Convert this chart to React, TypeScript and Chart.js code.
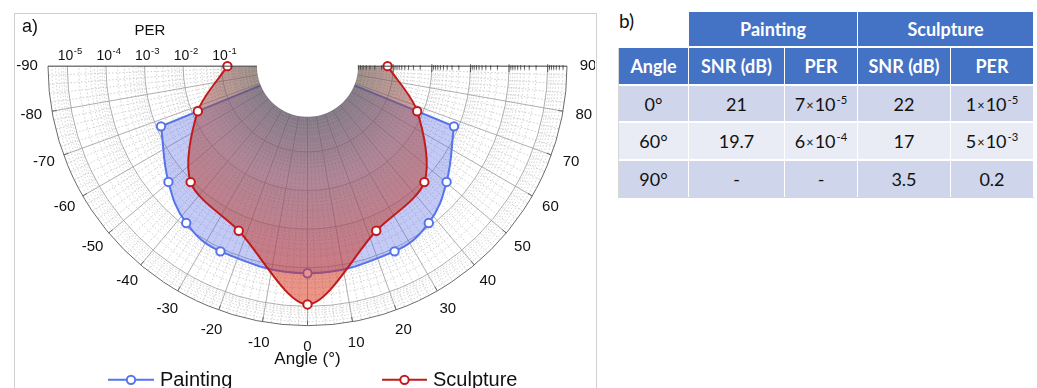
import React, { useEffect, useRef } from "react";
import { Chart, registerables } from "chart.js";

Chart.register(...registerables);

// ---------------- data ----------------
const sculptureAngles = [-90, -67.5, -45, -22.5, 0, 22.5, 45, 67.5, 90];
const sculpturePER = [0.14, 0.014, 8.7e-4, 3.7e-4, 1e-5, 3.7e-4, 8.7e-4, 0.014, 0.14];
const paintingAngles = [-67.5, -50, -37.5, -25, 0, 25, 37.5, 50, 67.5];
const paintingPER = [1.3e-3, 3.3e-4, 1.15e-4, 7.7e-5, 6.5e-5, 7.7e-5, 1.15e-4, 3.3e-4, 1.3e-3];
const angleTicks = [-90, -80, -70, -60, -50, -40, -30, -20, -10, 0, 10, 20, 30, 40, 50, 60, 70, 80, 90];
const perTickExponents = [-5, -4, -3, -2, -1];
const seriesNames = ["Painting", "Sculpture"];

// table
const tableAngles = ["0°", "60°", "90°"];
const paintingSNR = ["21", "19.7", "-"];
const paintingTablePER = ["7×10^-5", "6×10^-4", "-"];
const sculptureSNR = ["22", "17", "3.5"];
const sculptureTablePER = ["1×10^-5", "5×10^-3", "0.2"];

// radial axis: decades below PER = 1 (log scale, 1e0 inside -> 1e-5.5 outside)
const R_INNER = 0.09;
const R_OUTER = 5.5;
const R_OFFSET = 1.22;

// ---------------- styles ----------------
const FONT = "'Liberation Sans', Arial, sans-serif";
const BLUE = "#5673EE";
const RED = "#C21A1C";
const CANVAS_W = 580;
const CANVAS_H = 378;
const CX = 292.5;
const CY = 50;
const R_PX = 259.5;
const XMAX = R_OUTER + R_OFFSET;
const PX = R_PX / XMAX;
const YTOP = 1.2;
const YBOT = 7.0;

const rho = (per: number) => -Math.log10(per) + R_OFFSET;
const toXY = (deg: number, per: number) => {
  const t = (deg * Math.PI) / 180;
  const r = rho(per);
  return { x: r * Math.sin(t), y: r * Math.cos(t) };
};

function geom(chart: any) {
  const xs = chart.scales.x;
  const ys = chart.scales.y;
  const cx = xs.getPixelForValue(0);
  const cy = ys.getPixelForValue(0);
  const k = xs.getPixelForValue(1) - cx;
  return {
    cx,
    cy,
    k,
    rIn: (R_INNER + R_OFFSET) * k,
    rOut: (R_OUTER + R_OFFSET) * k,
  };
}

const sculptureFill = (c: any) => {
  const chart = c.chart;
  if (!chart || !chart.chartArea || !chart.scales || !chart.scales.x) return "rgba(218,45,15,0.5)";
  const { cx, cy, rIn, rOut } = geom(chart);
  const g = chart.ctx.createRadialGradient(cx, cy, rIn, cx, cy, rOut);
  g.addColorStop(0, "rgba(100,78,70,0.6)");
  g.addColorStop(0.3, "rgba(160,80,75,0.55)");
  g.addColorStop(0.75, "rgba(212,50,28,0.52)");
  g.addColorStop(1, "rgba(218,45,15,0.5)");
  return g;
};

function radial(ctx: CanvasRenderingContext2D, cx: number, cy: number, deg: number, r1: number, r2: number) {
  const t = (deg * Math.PI) / 180;
  ctx.beginPath();
  ctx.moveTo(cx + r1 * Math.sin(t), cy + r1 * Math.cos(t));
  ctx.lineTo(cx + r2 * Math.sin(t), cy + r2 * Math.cos(t));
  ctx.stroke();
}

const polarPlugin = {
  id: "polarGrid",
  beforeDatasetsDraw(chart: any) {
    const ctx: CanvasRenderingContext2D = chart.ctx;
    const { cx, cy, k, rIn, rOut } = geom(chart);
    ctx.save();
    // minor arcs
    ctx.strokeStyle = "#c4c4c4";
    ctx.lineWidth = 0.8;
    ctx.setLineDash([1.5, 2]);
    for (let e = 1; e <= 6; e++) {
      for (let m = 2; m <= 9; m++) {
        const per = m * Math.pow(10, -e);
        const v = -Math.log10(per);
        if (v <= R_INNER || v >= R_OUTER) continue;
        ctx.beginPath();
        ctx.arc(cx, cy, rho(per) * k, 0, Math.PI);
        ctx.stroke();
      }
    }
    // minor radial lines
    for (let a = -88; a <= 88; a += 2) {
      if (a % 10 === 0) continue;
      radial(ctx, cx, cy, a, rIn, rOut);
    }
    // major arcs
    ctx.setLineDash([]);
    ctx.strokeStyle = "#9a9a9a";
    ctx.lineWidth = 0.8;
    perTickExponents.forEach((e) => {
      ctx.beginPath();
      ctx.arc(cx, cy, rho(Math.pow(10, e)) * k, 0, Math.PI);
      ctx.stroke();
    });
    angleTicks.forEach((a) => {
      if (Math.abs(a) === 90) return;
      radial(ctx, cx, cy, a, rIn, rOut);
    });
    // outer arc + ticks
    ctx.strokeStyle = "#6a6a6a";
    ctx.lineWidth = 1;
    ctx.beginPath();
    ctx.arc(cx, cy, rOut, 0, Math.PI);
    ctx.stroke();
    angleTicks.forEach((a) => {
      if (Math.abs(a) === 90) return;
      radial(ctx, cx, cy, a, rOut - 5, rOut);
    });
    ctx.restore();
  },
  afterDatasetsDraw(chart: any) {
    const ctx: CanvasRenderingContext2D = chart.ctx;
    const { cx, cy, k, rIn, rOut } = geom(chart);
    ctx.save();
    // central hole
    ctx.fillStyle = "#ffffff";
    ctx.beginPath();
    ctx.arc(cx, cy, rIn, 0, Math.PI * 2);
    ctx.fill();
    // top axis line
    ctx.strokeStyle = "#3a3a3a";
    ctx.lineWidth = 1;
    ctx.beginPath();
    ctx.moveTo(cx - rOut, cy);
    ctx.lineTo(cx - rIn, cy);
    ctx.moveTo(cx + rIn, cy);
    ctx.lineTo(cx + rOut, cy);
    ctx.stroke();
    // log ticks on the right half
    ctx.lineWidth = 0.8;
    for (let e = 0; e <= 6; e++) {
      for (let m = 1; m <= 9; m++) {
        const per = m * Math.pow(10, -e);
        const v = -Math.log10(per);
        if (v < R_INNER || v > R_OUTER) continue;
        const x = cx + rho(per) * k;
        ctx.beginPath();
        ctx.moveTo(x, cy - (m === 1 ? 2 : 1));
        ctx.lineTo(x, cy + (m === 1 ? 6 : 3.5));
        ctx.stroke();
      }
    }
    ctx.restore();
  },
  afterDraw(chart: any) {
    const ctx: CanvasRenderingContext2D = chart.ctx;
    const { cx, cy, k, rOut } = geom(chart);
    ctx.save();
    ctx.fillStyle = "#111";
    ctx.textAlign = "center";
    ctx.textBaseline = "middle";
    // angle labels
    ctx.font = `15px ${FONT}`;
    const rl = rOut + 21;
    angleTicks.forEach((a) => {
      const t = (a * Math.PI) / 180;
      ctx.fillText(String(a), cx + rl * Math.sin(t), cy + rl * Math.cos(t));
    });
    // PER tick labels
    ctx.textAlign = "left";
    ctx.textBaseline = "alphabetic";
    perTickExponents.forEach((e) => {
      const x = cx - rho(Math.pow(10, e)) * k + 2.5;
      ctx.font = `14px ${FONT}`;
      const w1 = ctx.measureText("10").width;
      ctx.font = `9.5px ${FONT}`;
      const w2 = ctx.measureText(String(e)).width;
      const x0 = x - (w1 + w2) / 2;
      ctx.font = `14px ${FONT}`;
      ctx.fillText("10", x0, cy - 6);
      ctx.font = `9.5px ${FONT}`;
      ctx.fillText(String(e), x0 + w1 + 0.5, cy - 12.5);
    });
    ctx.textAlign = "center";
    ctx.textBaseline = "middle";
    ctx.font = `15px ${FONT}`;
    ctx.fillText("PER", cx - 157.5, cy - 35);
    ctx.textAlign = "left";
    ctx.font = `18px ${FONT}`;
    ctx.fillText("a)", cx - 285.5, cy - 39);
    ctx.textAlign = "center";
    ctx.font = `17px ${FONT}`;
    ctx.fillText("Angle (°)", cx, cy + 293);

    // legend
    const ly = cy + 313.7;
    const items = [
      { name: seriesNames[0], color: BLUE, x1: cx - 199.5, x2: cx - 153.5, tx: cx - 147.5 },
      { name: seriesNames[1], color: RED, x1: cx + 74.5, x2: cx + 119.5, tx: cx + 125.5 },
    ];
    items.forEach((it) => {
      ctx.strokeStyle = it.color;
      ctx.lineWidth = 2;
      ctx.beginPath();
      ctx.moveTo(it.x1, ly);
      ctx.lineTo(it.x2, ly);
      ctx.stroke();
      ctx.fillStyle = "#fff";
      ctx.beginPath();
      ctx.arc((it.x1 + it.x2) / 2, ly, 4.2, 0, Math.PI * 2);
      ctx.fill();
      ctx.stroke();
      ctx.fillStyle = "#111";
      ctx.textAlign = "left";
      ctx.font = `20px ${FONT}`;
      ctx.fillText(it.name, it.tx, ly + 1);
    });
    ctx.restore();
  },
};

function PerCell({ s }: { s: string }) {
  if (s.indexOf("^") < 0) return <>{s}</>;
  const [base, exp] = s.split("^");
  const [mant, ten] = base.split("×");
  return (
    <span>
      {mant}
      <span style={{ fontSize: "0.7em", margin: "0 1px", position: "relative", top: "-0.05em" }}>×</span>
      {ten}
      <span style={{ fontSize: "0.62em", position: "relative", top: "-0.6em", marginLeft: 1 }}>{exp}</span>
    </span>
  );
}

const COLS: [number, number][] = [
  [619, 69],
  [689, 95],
  [785, 72],
  [858, 92],
  [951, 82],
];
const ROWS: [number, number][] = [
  [12, 34],
  [48, 36],
  [86, 35],
  [123, 36],
  [161, 36],
];
const HEADER_BG = "#4472C4";
const ROW_BG = ["#CFD5EA", "#E9EBF5", "#CFD5EA"];
const TFONT = "Lato, 'Open Sans', sans-serif";

function Cell(props: { l: number; t: number; w: number; h: number; bg: string; bold?: boolean; color?: string; children: any }) {
  const { l, t, w, h, bg, bold, color, children } = props;
  return (
    <div
      style={{
        position: "absolute",
        left: l,
        top: t,
        width: w,
        height: h,
        background: bg,
        display: "flex",
        alignItems: "center",
        justifyContent: "center",
        fontFamily: TFONT,
        fontSize: 18,
        fontWeight: bold ? 700 : 400,
        color: color || "#111",
        whiteSpace: "nowrap",
      }}
    >
      {children}
    </div>
  );
}

export default function App() {
  const ref = useRef<HTMLCanvasElement>(null);
  useEffect(() => {
    const sculpturePts = sculptureAngles.map((a, i) => toXY(a, sculpturePER[i]));
    const paintingPts = paintingAngles.map((a, i) => toXY(a, paintingPER[i]));
    const first = paintingPts[0];
    const last = paintingPts[paintingPts.length - 1];
    const wedgePts = [{ x: first.x, y: first.y }, { x: 0, y: 0 }, { x: last.x, y: last.y }];

    const chart = new Chart(ref.current as HTMLCanvasElement, {
      type: "scatter",
      data: {
        datasets: [
          {
            label: seriesNames[1],
            data: sculpturePts,
            showLine: true,
            tension: 0.3,
            borderColor: RED,
            borderWidth: 2,
            backgroundColor: sculptureFill as any,
            fill: "shape",
            pointRadius: 4.2,
            pointBorderWidth: 2,
            pointBackgroundColor: "#ffffff",
            pointBorderColor: RED,
            clip: false as any,
          },
          {
            label: seriesNames[0],
            data: paintingPts,
            showLine: true,
            tension: 0.4,
            borderColor: BLUE,
            borderWidth: 2,
            backgroundColor: "rgba(75,100,225,0.34)",
            fill: "+1",
            pointRadius: 4.2,
            pointBorderWidth: 2,
            pointBackgroundColor: "#ffffff",
            pointBorderColor: BLUE,
            clip: false as any,
          },
          {
            label: "wedge",
            data: wedgePts,
            showLine: true,
            tension: 0,
            borderColor: BLUE,
            borderWidth: 2,
            backgroundColor: "rgba(0,0,0,0)",
            fill: false,
            pointRadius: 0,
            clip: false as any,
          },
        ],
      },
      options: {
        animation: false,
        responsive: false,
        maintainAspectRatio: false,
        events: [],
        layout: {
          padding: {
            left: CX - R_PX,
            right: CANVAS_W - (CX + R_PX),
            top: CY - YTOP * PX,
            bottom: CANVAS_H - (CY + YBOT * PX),
          },
        },
        scales: {
          x: { type: "linear", min: -XMAX, max: XMAX, display: false },
          y: { type: "linear", min: -YTOP, max: YBOT, reverse: true, display: false },
        },
        plugins: {
          legend: { display: false },
          tooltip: { enabled: false },
        },
      },
      plugins: [polarPlugin as any],
    });
    return () => chart.destroy();
  }, []);

  const headerCells = ["Angle", "SNR (dB)", "PER", "SNR (dB)", "PER"];
  const bodyRows = tableAngles.map((a, i) => [a, paintingSNR[i], paintingTablePER[i], sculptureSNR[i], sculptureTablePER[i]]);

  return (
    <div style={{ position: "absolute", left: 0, top: 0, width: 1037, height: 388, overflow: "hidden", background: "#fff" }}>
      <div
        style={{
          position: "absolute",
          left: 14,
          top: 13,
          width: 583,
          height: 380,
          border: "1px solid #d0d0d0",
          boxSizing: "border-box",
        }}
      >
        <canvas ref={ref} width={CANVAS_W} height={CANVAS_H} style={{ display: "block", width: CANVAS_W, height: CANVAS_H }} />
      </div>

      <div style={{ position: "absolute", left: 619, top: 9, fontFamily: TFONT, fontSize: 19, color: "#111" }}>b)</div>
      <div
        style={{
          position: "absolute",
          left: 618,
          top: 48,
          width: 415,
          height: 149,
          borderLeft: "1px solid #d6d6d6",
          borderBottom: "1px solid #d6d6d6",
        }}
      />
      <Cell l={COLS[1][0]} t={ROWS[0][0]} w={COLS[2][0] + COLS[2][1] - COLS[1][0]} h={ROWS[0][1]} bg={HEADER_BG} bold color="#fff">
        {seriesNames[0]}
      </Cell>
      <Cell l={COLS[3][0]} t={ROWS[0][0]} w={COLS[4][0] + COLS[4][1] - COLS[3][0]} h={ROWS[0][1]} bg={HEADER_BG} bold color="#fff">
        {seriesNames[1]}
      </Cell>
      {headerCells.map((h, j) => (
        <Cell key={"h" + j} l={COLS[j][0]} t={ROWS[1][0]} w={COLS[j][1]} h={ROWS[1][1]} bg={HEADER_BG} bold color="#fff">
          {h}
        </Cell>
      ))}
      {bodyRows.map((row, i) =>
        row.map((v, j) => (
          <Cell key={`b${i}-${j}`} l={COLS[j][0]} t={ROWS[i + 2][0]} w={COLS[j][1]} h={ROWS[i + 2][1]} bg={ROW_BG[i]}>
            {j === 2 || j === 4 ? <PerCell s={v} /> : v}
          </Cell>
        ))
      )}
    </div>
  );
}
